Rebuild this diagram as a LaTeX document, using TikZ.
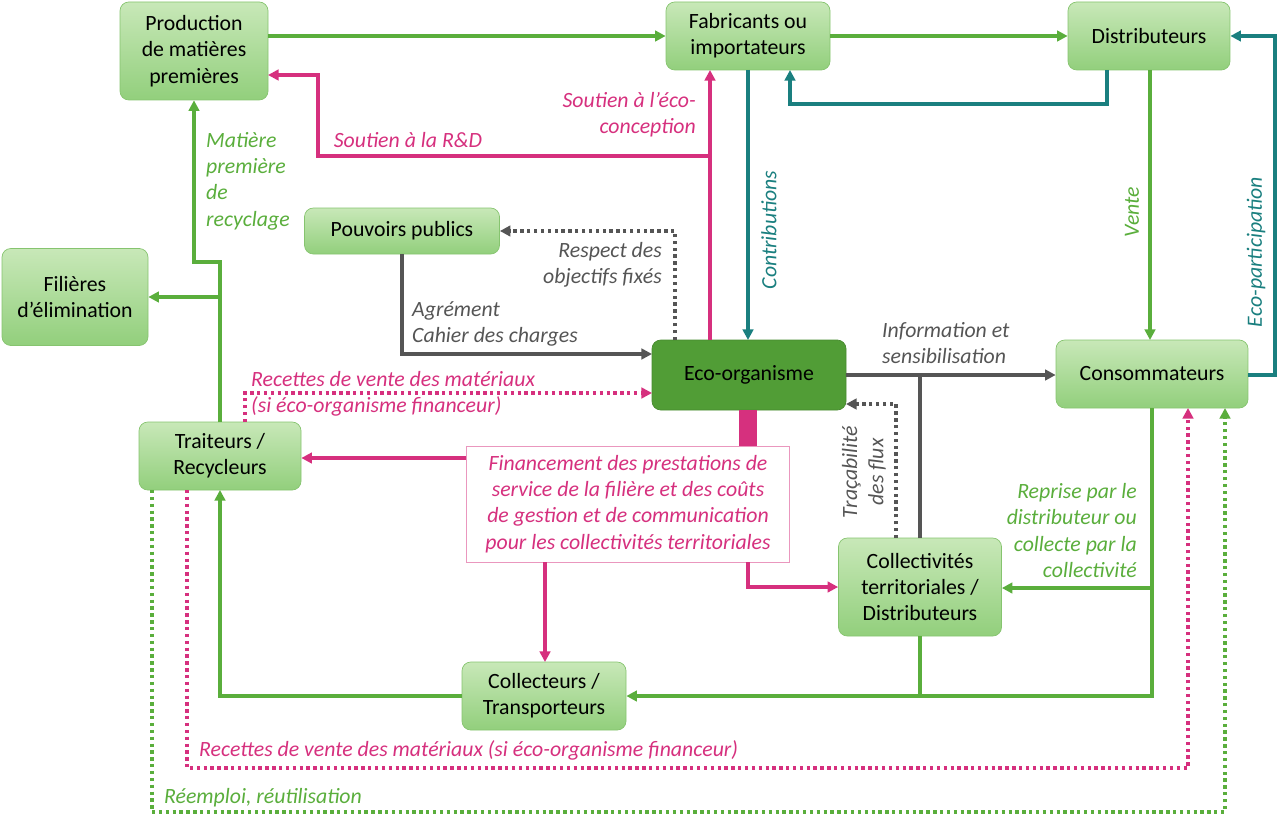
\documentclass[tikz,border=0pt]{standalone}
\usepackage{fontspec}
\setmainfont{Carlito}
\usetikzlibrary{arrows.meta}
\definecolor{gr}{HTML}{5AAE3C}
\definecolor{te}{HTML}{1A7F7F}
\definecolor{pk}{HTML}{D6307E}
\definecolor{gy}{HTML}{555555}
\definecolor{bxa}{HTML}{C8E8B8}
\definecolor{bxb}{HTML}{92CF7C}
\definecolor{bxl}{HTML}{86C46F}
\begin{document}
\begin{tikzpicture}[x=0.02cm,y=-0.02cm,font=\fontsize{12.4}{15}\selectfont,
 box/.style={draw=bxl,rounded corners=5pt,top color=bxa,bottom color=bxb,align=center,inner sep=0pt},
 ar/.style={-{Triangle[length=6pt,width=6pt]},line width=1.9pt},
 g/.style={ar,draw=gr}, t/.style={ar,draw=te}, p/.style={ar,draw=pk}, k/.style={ar,draw=gy},
 dt/.style={dotted,line width=2pt},
 gl/.style={text=gr,font=\fontsize{12.4}{15}\selectfont\itshape},
 pl/.style={text=pk,font=\fontsize{12.4}{15}\selectfont\itshape},
 tl/.style={text=te,font=\fontsize{12.4}{15}\selectfont\itshape},
 kl/.style={text=gy,font=\fontsize{12.4}{15}\selectfont\itshape}]
\useasboundingbox (0,0) rectangle (1280,824);
\node[box,minimum width=148*0.02cm,minimum height=98*0.02cm] (prod) at (194,51) {Production\\de matières\\premières};
\node[box,minimum width=164*0.02cm,minimum height=68*0.02cm] (fab) at (748,36) {Fabricants ou\\importateurs};
\node[box,minimum width=162*0.02cm,minimum height=68*0.02cm] (dist) at (1149,36) {Distributeurs};
\node[box,minimum width=195*0.02cm,minimum height=46*0.02cm] (pouv) at (402,231) {Pouvoirs publics};
\node[box,minimum width=146*0.02cm,minimum height=97*0.02cm] (fil) at (75,297) {Filières\\d’élimination};
\node[draw=gr!80!black,fill=gr!90!black,rounded corners=5pt,minimum width=194*0.02cm,minimum height=70*0.02cm] (eco) at (749,375) {Eco-organisme};
\node[box,minimum width=192*0.02cm,minimum height=68*0.02cm] (cons) at (1152,374) {Consommateurs};
\node[box,minimum width=162*0.02cm,minimum height=68*0.02cm] (trai) at (220,456) {Traiteurs /\\Recycleurs};
\node[draw=pk!50,fill=white,minimum width=323*0.02cm,minimum height=116*0.02cm,align=center,pl] (fin) at (628,504) {Financement des prestations de\\service de la filière et des coûts\\de gestion et de communication\\pour les collectivités territoriales};
\node[box,minimum width=163*0.02cm,minimum height=98*0.02cm] (coll) at (920,587) {Collectivités\\territoriales /\\Distributeurs};
\node[box,minimum width=164*0.02cm,minimum height=68*0.02cm] (ct) at (544,696) {Collecteurs /\\Transporteurs};
% green
\draw[g] (prod.east|-0,36) -- (fab.west|-0,36);
\draw[g] (fab.east|-0,36) -- (dist.west|-0,36);
\draw[g] (1150,70) -- (1150,340);
\draw[g] (220,422) -- (220,262) -- (194,262) -- (prod.south-|194,0);
\draw[g] (220,297) -- (fil.east|-0,297);
\draw[g] (1152,408) -- (1152,588) -- (coll.east|-0,588);
\draw[g] (1152,588) -- (1152,696) -- (ct.east|-0,696);
\draw[gr,line width=1.9pt] (920,636) -- (920,696);
\draw[g] (ct.west|-0,696) -- (220,696) -- (220,490);
\draw[g,dt] (152,490) -- (152,812) -- (1225,812) -- (1225,408);
% teal
\draw[t] (1107,70) -- (1107,104) -- (790,104) -- (790,70);
\draw[t] (748,70) -- (748,340);
\draw[t] (1248,375) -- (1275,375) -- (1275,36) -- (dist.east|-0,36);
% pink
\draw[p] (710,340) -- (710,70);
\draw[p] (710,156) -- (318,156) -- (318,75) -- (268,75);
\draw[pk,line width=10pt] (748,410) -- (748,446);
\draw[p] (fin.west|-0,458) -- (trai.east|-0,458);
\draw[p] (545,562) -- (545,662);
\draw[p] (748,562) -- (748,587) -- (coll.west|-0,587);
\draw[p,dt] (245,422) -- (245,393) -- (652,393);
\draw[p,dt] (187,490) -- (187,768) -- (1188,768) -- (1188,408);
% gray
\draw[k] (402,254) -- (402,354) -- (652,354);
\draw[k,dt] (675,340) -- (675,231) -- (pouv.east|-0,231);
\draw[k] (eco.east|-0,375) -- (cons.west|-0,375);
\draw[gy,line width=1.9pt] (920,538) -- (920,375);
\draw[k,dt] (896,538) -- (896,404) -- (846,404);
% labels
\node[gl,align=left,anchor=north west] at (200,126) {Matière\\première\\de\\recyclage};
\node[gl,rotate=90] at (1132,212) {Vente};
\node[tl,rotate=90] at (769,230) {Contributions};
\node[tl,rotate=90] at (1256,252) {Eco-participation};
\node[pl,align=right,anchor=north east] at (702,86) {Soutien à l’éco-\\conception};
\node[pl] at (408,140) {Soutien à la R\&D};
\node[kl,align=right,anchor=north east] at (668,236) {Respect des\\objectifs fixés};
\node[kl,align=left,anchor=north west] at (406,295) {Agrément\\Cahier des charges};
\node[kl,align=left,anchor=north west] at (876,316) {Information et\\sensibilisation};
\node[pl,align=left,anchor=north west] at (245,365) {Recettes de vente des matériaux\\(si éco-organisme financeur)};
\node[kl,rotate=90,align=center] at (864,472) {Traçabilité\\des flux};
\node[gl,align=right,anchor=north east] at (1143,477) {Reprise par le\\distributeur ou\\collecte par la\\collectivité};
\node[pl,anchor=west] at (193,750) {Recettes de vente des matériaux (si éco-organisme financeur)};
\node[gl,anchor=west] at (158,798) {Réemploi, réutilisation};
\end{tikzpicture}
\end{document}
